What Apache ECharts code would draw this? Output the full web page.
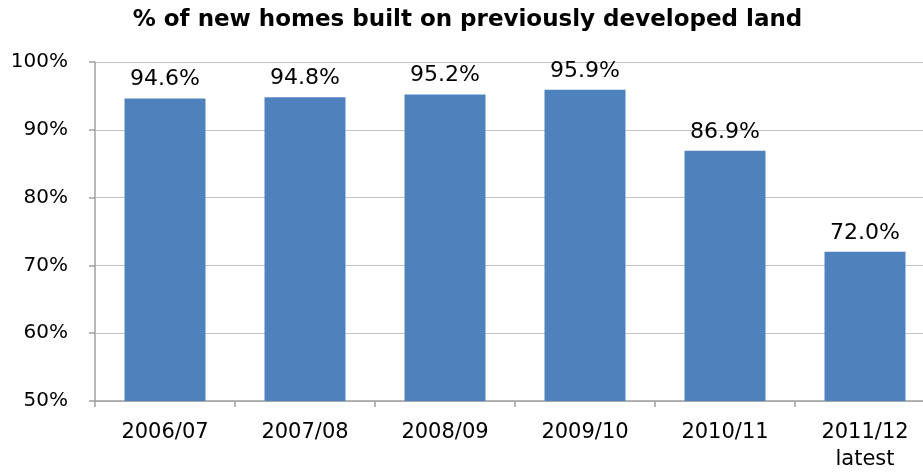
<!DOCTYPE html>
<html>
<head>
<meta charset="utf-8">
<script src="https://cdn.jsdelivr.net/npm/echarts@6/dist/echarts.min.js"></script>
<style>
  html, body { margin: 0; padding: 0; background: #fff; overflow: hidden; }
  #chart { width: 935px; height: 474px; }
</style>
</head>
<body>
<div id="chart"></div>
<script>
// data
var categories = ["2006/07", "2007/08", "2008/09", "2009/10", "2010/11", "2011/12\nlatest"];
var shares = [94.6, 94.8, 95.2, 95.9, 86.9, 72.0];
var yTicks = [50, 60, 70, 80, 90, 100];

// plot runs slightly past the right edge of the window, as in the original
var chart = echarts.init(document.getElementById("chart"));

var option = {
  animation: false,
  textStyle: { fontFamily: "'DejaVu Sans', sans-serif" },
  title: {
    text: "% of new homes built on previously developed land",
    left: "center",
    top: 4,
    textStyle: { fontSize: 23, fontWeight: "bold", color: "#000", fontFamily: "'DejaVu Sans', sans-serif" }
  },
  grid: { left: 95, top: 62, right: 0, bottom: 73, containLabel: false },
  xAxis: {
    type: "category",
    data: categories,
    axisLine: { lineStyle: { color: "#a0a0a0", width: 1.5 } },
    axisTick: { show: true, length: 6, lineStyle: { color: "#a0a0a0", width: 1.5 } },
    axisLabel: { color: "#000", fontSize: 21, margin: 18, lineHeight: 27 }
  },
  yAxis: {
    type: "value",
    min: yTicks[0],
    max: yTicks[yTicks.length - 1],
    interval: 10,
    axisLine: { show: true, lineStyle: { color: "#a0a0a0", width: 1.5 } },
    axisTick: { show: true, length: 6, lineStyle: { color: "#a0a0a0", width: 1.5 } },
    splitLine: { show: true, lineStyle: { color: "#c4c4c4", width: 1 } },
    axisLabel: { color: "#000", fontSize: 20, margin: 27, formatter: "{value}%" }
  },
  series: [{
    type: "bar",
    data: shares,
    barWidth: 81,
    itemStyle: { color: "#4F81BD" },
    label: {
      show: true,
      position: "top",
      distance: 8,
      color: "#000",
      fontSize: 22,
      formatter: function (p) { return p.value.toFixed(1) + "%"; }
    }
  }]
};

chart.setOption(option);
</script>
</body>
</html>
